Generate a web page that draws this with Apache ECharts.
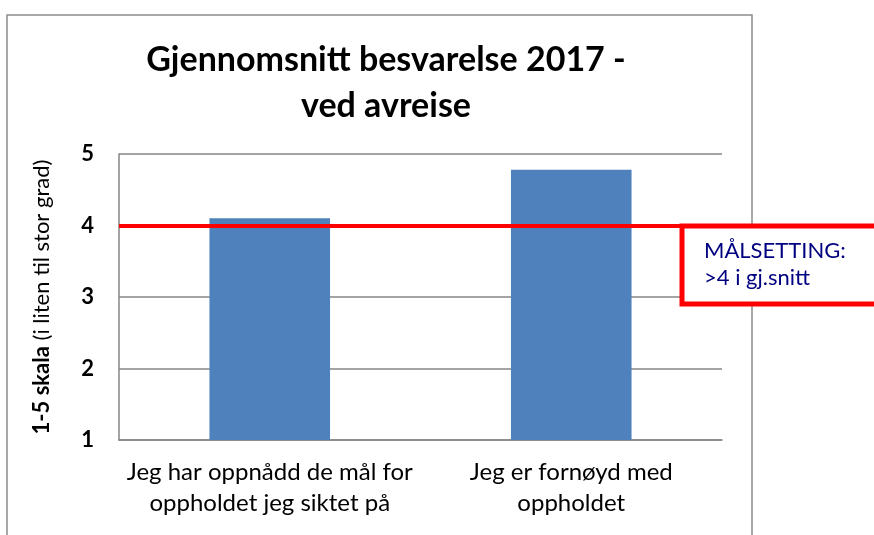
<!DOCTYPE html>
<html>
<head>
<meta charset="utf-8">
<script src="https://cdn.jsdelivr.net/npm/echarts@6/dist/echarts.min.js"></script>
<style>
  html, body { margin: 0; padding: 0; background: #fff; }
  #chart { width: 874px; height: 535px; }
</style>
</head>
<body>
<div id="chart"></div>
<script>
// data
const categories = ['Jeg har oppnådd de mål for\noppholdet jeg siktet på', 'Jeg er fornøyd med\noppholdet']
const averages = [4.1, 4.78]
const targetValue = 4
const yTicks = [1, 2, 3, 4, 5]
const targetText = ['MÅLSETTING:', '>4 i gj.snitt']

const chart = echarts.init(document.getElementById('chart'))

const option = {
  animation: false,
  title: {
    text: 'Gjennomsnitt besvarelse 2017 -\nved avreise',
    left: 381,
    textAlign: 'center',
    top: 32,
    textStyle: {
      fontFamily: 'Lato',
      fontWeight: 'bold',
      fontSize: 34,
      lineHeight: 46,
      color: '#000'
    }
  },
  grid: { left: 119, right: 152, top: 154, bottom: 95 },
  xAxis: {
    type: 'category',
    data: categories,
    axisLine: { lineStyle: { color: '#868686', width: 1.5 } },
    axisTick: { show: false },
    axisLabel: {
      color: '#000',
      fontFamily: 'Lato',
      fontSize: 24,
      lineHeight: 31,
      margin: 17,
      interval: 0
    }
  },
  yAxis: {
    type: 'value',
    min: yTicks[0],
    max: yTicks[yTicks.length - 1],
    interval: 1,
    name: '{b|1-5 skala} (i liten til stor grad)',
    nameLocation: 'middle',
    nameGap: 66,
    nameTextStyle: {
      color: '#000',
      fontFamily: 'Lato',
      fontSize: 22,
      rich: {
        b: { fontFamily: 'Lato', fontSize: 22, fontWeight: 'bold', color: '#000' }
      }
    },
    axisLine: { show: true, lineStyle: { color: '#868686', width: 1.5 } },
    axisTick: { show: false },
    splitLine: { lineStyle: { color: '#868686', width: 1.5 } },
    axisLabel: {
      color: '#000',
      fontFamily: 'Lato',
      fontWeight: 'bold',
      fontSize: 22,
      margin: 25
    }
  },
  series: [
    {
      type: 'bar',
      data: averages,
      barCategoryGap: '60%',
      itemStyle: { color: '#4F81BD' },
      markLine: {
        symbol: 'none',
        silent: true,
        label: { show: false },
        lineStyle: { color: '#FF0000', width: 4, type: 'solid' },
        data: [{ yAxis: targetValue }]
      }
    }
  ],
  graphic: [
    {
      type: 'rect',
      z: 0,
      shape: { x: 7, y: 15, width: 745, height: 600 },
      style: { fill: 'none', stroke: '#8c8c8c', lineWidth: 1.5 }
    },
    {
      type: 'rect',
      z: 100,
      shape: { x: 682, y: 226, width: 220, height: 78 },
      style: { fill: '#fff', stroke: '#FF0000', lineWidth: 5 }
    },
    {
      type: 'text',
      z: 101,
      left: 704,
      top: 237,
      style: {
        text: targetText.join('\n'),
        fill: '#000080',
        font: '22px Lato',
        lineHeight: 27
      }
    }
  ]
}

chart.setOption(option)
</script>
</body>
</html>
